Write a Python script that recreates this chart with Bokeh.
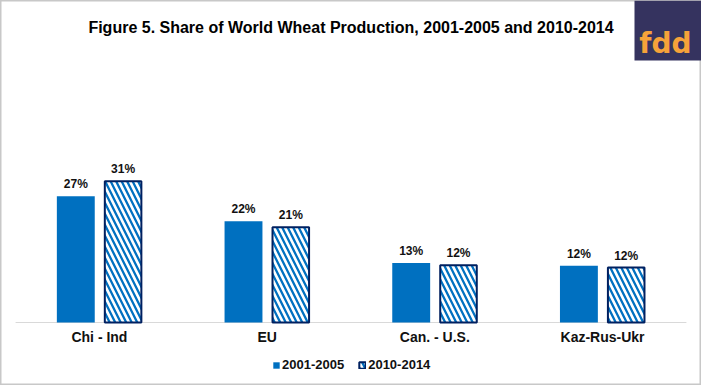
from bokeh.plotting import figure
from bokeh.models import (ColumnDataSource, FactorRange, Range1d, Label, LabelSet,
                          Legend, LegendItem, BoxAnnotation)
from bokeh.transform import dodge
from bokeh.core.properties import value
from bokeh.embed import file_html
from bokeh.resources import INLINE

# ---- data ----
regions = ["Chi - Ind", "EU", "Can. - U.S.", "Kaz-Rus-Ukr"]
series = ["2001-2005", "2010-2014"]
share_2001_2005 = [27.3, 21.9, 12.9, 12.3]
share_2010_2014 = [30.6, 20.6, 12.4, 11.9]
chart_title = "Figure 5. Share of World Wheat Production, 2001-2005 and 2010-2014"
logo_text = "fdd"

src = ColumnDataSource(dict(
    region=regions,
    zero=[0] * len(regions),
    a=share_2001_2005,
    b=share_2010_2014,
    la=[f"{round(v)}%" for v in share_2001_2005],
    lb=[f"{round(v)}%" for v in share_2010_2014],
))
base_src = ColumnDataSource(dict(x0=[regions[0]], x1=[regions[-1]], y=[0]))

BLUE = "#0070C0"
NAVY = "#002060"
TXT = "#111111"

p = figure(x_range=FactorRange(*regions, range_padding=0.045, range_padding_units="percent"),
           y_range=Range1d(-13.64, 69.70),
           width=701, height=385, output_backend="svg", toolbar_location=None,
           x_axis_location=None, y_axis_location=None, min_border=0)
p.outline_line_color = "#c8c8c8"
p.outline_line_width = 2
p.background_fill_color = "white"
p.border_fill_color = "white"
p.xgrid.grid_line_color = None
p.ygrid.grid_line_color = None

# category baseline (axis line) spanning the categorical range
p.segment(x0=dodge("x0", -0.5, range=p.x_range), x1=dodge("x1", 0.5, range=p.x_range),
          y0="y", y1="y", source=base_src, line_color="#d9d9d9", line_width=1)

OFF = 0.141
W = 0.226
r1 = p.vbar(x=dodge("region", -OFF, range=p.x_range), top="a", width=W, source=src,
            fill_color=BLUE, line_color=None)
r2 = p.vbar(x=dodge("region", OFF, range=p.x_range), top="b", width=W - 0.008, source=src,
            fill_color="white", line_color=NAVY, line_width=2,
            hatch_pattern="\\", hatch_color=BLUE, hatch_weight=2.3, hatch_scale=11)

for col, lab, off in (("a", "la", -OFF), ("b", "lb", OFF)):
    p.add_layout(LabelSet(x=dodge("region", off, range=p.x_range), y=col, text=lab, source=src,
                          y_offset=8, text_align="center", text_baseline="alphabetic",
                          text_font=value("Liberation Sans"), text_font_style="bold",
                          text_font_size="12px", text_color=TXT))

# category labels
p.add_layout(LabelSet(x="region", y="zero", text="region", source=src, y_offset=-20,
                      text_align="center", text_baseline="alphabetic",
                      text_font=value("Liberation Sans"), text_font_style="bold",
                      text_font_size="14px", text_color=TXT))

legend = Legend(items=[LegendItem(label=series[0], renderers=[r1]),
                       LegendItem(label=series[1], renderers=[r2])],
                orientation="horizontal", location=(272, 13),
                glyph_width=8, glyph_height=8, label_standoff=2, spacing=14,
                label_text_font="Liberation Sans", label_text_font_style="bold",
                label_text_font_size="13px", label_text_color=TXT,
                border_line_color=None, background_fill_alpha=0, padding=0, margin=0)
p.add_layout(legend)

p.add_layout(Label(x=350.5, y=358, x_units="screen", y_units="screen", text=chart_title,
                   text_align="center", text_baseline="alphabetic",
                   text_font="Liberation Sans", text_font_style="bold",
                   text_font_size="16px", text_color="#000000"))

p.add_layout(BoxAnnotation(left=634, right=701, top=385, bottom=325,
                           left_units="screen", right_units="screen",
                           top_units="screen", bottom_units="screen",
                           fill_color="#35335F", fill_alpha=1, line_color=None))
p.add_layout(Label(x=665, y=342, x_units="screen", y_units="screen", text=logo_text,
                   text_align="center", text_baseline="alphabetic",
                   text_font="DejaVu Sans", text_font_style="bold",
                   text_font_size="28px", text_color="#F5A23A"))

open("out.html", "w").write(file_html(p, INLINE))
